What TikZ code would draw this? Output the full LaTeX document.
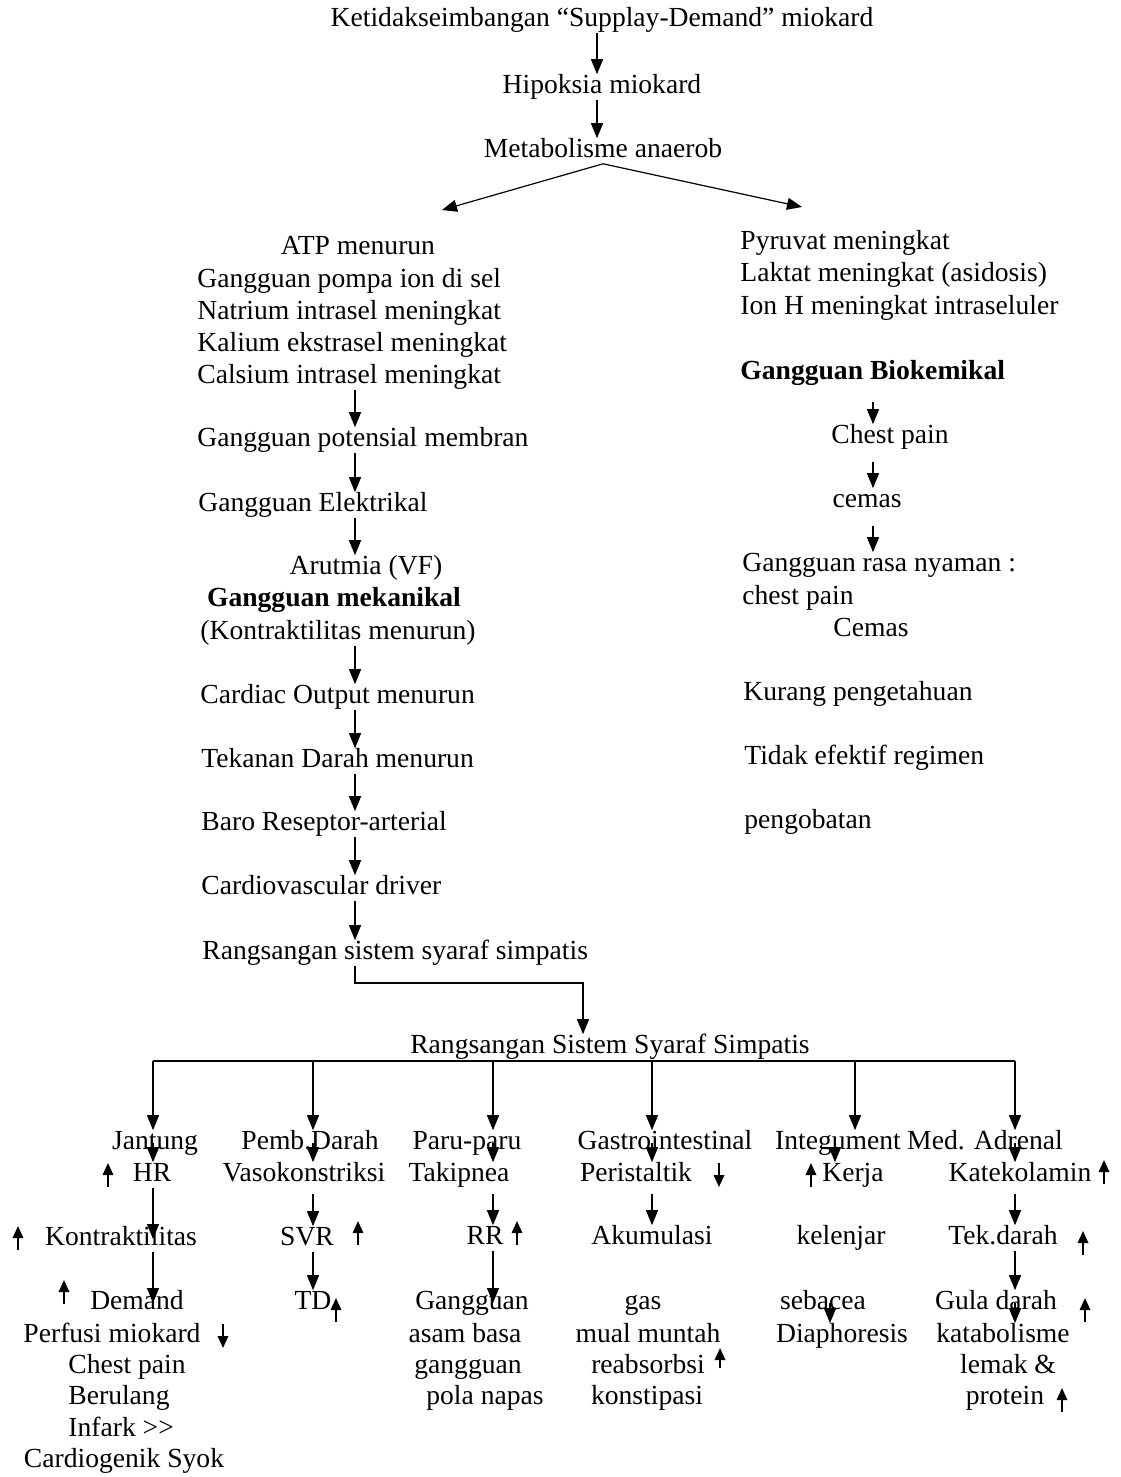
\documentclass[tikz,border=0pt]{standalone}
\usepackage{fontspec}
\setmainfont{Liberation Serif}
\usetikzlibrary{arrows.meta,calc}
\newcommand{\diagfont}{\fontsize{13.8}{16}\selectfont}

\begin{document}
\begin{tikzpicture}[x=0.5pt,y=-0.5pt,
  txt/.style={inner sep=0pt,font=\diagfont,text height=9.4pt,text depth=3pt},
  lft/.style={txt,anchor=west},
  con/.style={line width=0.6pt,-{Triangle[length=7.5pt,width=6pt]}},
  ind/.style={line width=1pt,-{Triangle[length=6pt,width=5.2pt]}}]
  \fill[white] (0,0) rectangle (1120,1477);
  \useasboundingbox (0,0) rectangle (1120,1477);

  % axes of the arrows
  \coordinate (axL) at (355,0);
  \coordinate (axR) at (873,0);
  \coordinate (brL) at (442,210);
  \coordinate (brR) at (802,207);
  \coordinate (elb) at (583,983);

  % top chain
  \node[txt] (top) at (602,20) {Ketidakseimbangan “Supplay-Demand” miokard};
  \node[txt] (hipoksia) at (602,87) {Hipoksia miokard};
  \node[txt] (metab) at (603,151) {Metabolisme anaerob};
  \draw[con] (top.south -| 597,0) -- (hipoksia.north -| 597,0);
  \draw[con] (hipoksia.south -| 597,0) -- (metab.north -| 597,0);
  \draw[con] (metab.south) -- (brL);
  \draw[con] (metab.south) -- (brR);

  % left branch
  \node[txt] (atp) at (358,248) {ATP menurun};
  \node[lft] (pompa) at (197,281) {Gangguan pompa ion di sel};
  \node[lft] (natrium) at (197,313) {Natrium intrasel meningkat};
  \node[lft] (kalium) at (197,345) {Kalium ekstrasel meningkat};
  \node[lft] (calsium) at (197,377) {Calsium intrasel meningkat};
  \node[lft] (potensial) at (197,440) {Gangguan potensial membran};
  \node[lft] (elektrikal) at (198,505) {Gangguan Elektrikal};
  \node[txt] (arutmia) at (366,568) {Arutmia (VF)};
  \node[txt,font=\diagfont\bfseries] (mekanikal) at (334,600) {Gangguan mekanikal};
  \node[lft] (kontraksi) at (200,633) {(Kontraktilitas menurun)};
  \node[lft] (cardiac) at (200,697) {Cardiac Output menurun};
  \node[lft] (tekanan) at (201,761) {Tekanan Darah menurun};
  \node[lft] (baro) at (201,824) {Baro Reseptor-arterial};
  \node[lft] (cardio) at (201,888) {Cardiovascular driver};
  \node[lft] (rss) at (202,953) {Rangsangan sistem syaraf simpatis};

  \draw[con] (calsium.south -| axL) -- (potensial.north -| axL);
  \draw[con] (potensial.south -| axL) -- (elektrikal.north -| axL);
  \draw[con] (elektrikal.south -| axL) -- (arutmia.north -| axL);
  \draw[con] (kontraksi.south -| axL) -- (cardiac.north -| axL);
  \draw[con] (cardiac.south -| axL) -- (tekanan.north -| axL);
  \draw[con] (tekanan.south -| axL) -- (baro.north -| axL);
  \draw[con] (baro.south -| axL) -- (cardio.north -| axL);
  \draw[con] (cardio.south -| axL) -- (rss.north -| axL);

  % right branch
  \node[lft] (pyruvat) at (740,243) {Pyruvat meningkat};
  \node[lft] (laktat) at (740,275) {Laktat meningkat (asidosis)};
  \node[lft] (ionh) at (740,308) {Ion H meningkat intraseluler};
  \node[lft,font=\diagfont\bfseries] (biokem) at (740,373) {Gangguan Biokemikal};
  \node[txt] (chest) at (890,437) {Chest pain};
  \node[txt] (cemas) at (867,501) {cemas};
  \node[lft] (nyaman) at (742,565) {Gangguan rasa nyaman :};
  \node[lft] (chestp) at (742,598) {chest pain};
  \node[txt] (cemasB) at (871,630) {Cemas};
  \node[lft] (kurang) at (743,694) {Kurang pengetahuan};
  \node[lft] (tidak) at (744,758) {Tidak efektif regimen};
  \node[lft] (obat) at (744,822) {pengobatan};

  \draw[con,shorten <=8pt] (biokem.south -| axR) -- (chest.north -| axR);
  \draw[con,shorten <=6pt] (chest.south -| axR) -- (cemas.north -| axR);
  \draw[con,shorten <=6pt] (cemas.south -| axR) -- (nyaman.north -| axR);

  % sympathetic split
  \node[txt] (rssB) at (610,1047) {Rangsangan Sistem Syaraf Simpatis};
  \draw[con] (rss.south -| axL) |- (elb) -- (rssB.north -| elb);

  \coordinate (c1) at (153,1061);
  \coordinate (c2) at (313,1061);
  \coordinate (c3) at (493,1061);
  \coordinate (c4) at (652,1061);
  \coordinate (c5) at (855,1061);
  \coordinate (c6) at (1015,1061);
  \draw[line width=0.6pt] (c1) -- (c6);

  % Jantung
  \node[txt] (jantung) at (155,1143) {Jantung};
  \node[txt] (hr) at (152,1175) {HR};
  \node[txt] (kon) at (121,1239) {Kontraktilitas};
  \node[txt] (dem) at (137,1303) {Demand};
  \node[txt] (perfusi) at (112,1336) {Perfusi miokard};
  \node[txt] (chestA) at (127,1367) {Chest pain};
  \node[lft] (berulang) at (68,1398) {Berulang};
  \node[lft] (infark) at (68,1430) {Infark >\kern0pt>};
  \node[txt] (syok) at (124,1461) {Cardiogenik Syok};

  % Pembuluh darah
  \node[txt] (pemb) at (310,1143) {Pemb.Darah};
  \node[txt] (vaso) at (304,1175) {Vasokonstriksi};
  \node[txt] (svr) at (307,1239) {SVR};
  \node[txt] (td) at (313,1303) {TD};

  % Paru
  \node[txt] (paru) at (467,1143) {Paru-paru};
  \node[txt] (tak) at (459,1175) {Takipnea};
  \node[txt] (rr) at (485,1238) {RR};
  \node[txt] (gg) at (472,1303) {Gangguan};
  \node[txt] (asam) at (465,1336) {asam basa};
  \node[txt] (ggB) at (468,1367) {gangguan};
  \node[txt] (pola) at (485,1398) {pola napas};

  % Gastrointestinal
  \node[txt] (gastro) at (665,1143) {Gastrointestinal};
  \node[txt] (per) at (636,1175) {Peristaltik};
  \node[txt] (aku) at (652,1238) {Akumulasi};
  \node[txt] (gas) at (643,1303) {gas};
  \node[txt] (mual) at (648,1336) {mual muntah};
  \node[txt] (reab) at (648,1367) {reabsorbsi};
  \node[txt] (kons) at (647,1398) {konstipasi};

  % Integument
  \node[txt] (integ) at (838,1143) {Integument};
  \node[txt] (kerja) at (853,1175) {Kerja};
  \node[txt] (kel) at (841,1238) {kelenjar};
  \node[txt] (seb) at (823,1303) {sebacea};
  \node[txt] (dia) at (842,1336) {Diaphoresis};

  % Medula adrenal
  \node[txt] (adrenal) at (985,1143) {Med. Adrenal};
  \node[txt] (kat) at (1020,1175) {Katekolamin};
  \node[txt] (tek) at (1003,1238) {Tek.darah};
  \node[txt] (gula) at (996,1303) {Gula darah};
  \node[txt] (katab) at (1003,1336) {katabolisme};
  \node[txt] (lemak) at (1008,1367) {lemak \&};
  \node[txt] (protein) at (1005,1398) {protein};

  \foreach \c/\n in {c1/jantung,c2/pemb,c3/paru,c4/gastro,c5/integ,c6/adrenal}
    \draw[con] (\c) -- (\n.north -| \c);

  \draw[con] (jantung.center -| c1) -- (hr.north -| c1);
  \draw[con] (hr.south -| c1) -- (kon.center -| c1);
  \draw[con] (kon.south -| c1) -- (dem.center -| c1);
  \draw[con] (pemb.center -| c2) -- (vaso.north -| c2);
  \draw[con,shorten <=3pt] (vaso.south -| c2) -- (svr.north -| c2);
  \draw[con] (svr.south -| c2) -- (td.north -| c2);
  \draw[con] (paru.center -| c3) -- (tak.north -| c3);
  \draw[con,shorten <=3pt] (tak.south -| c3) -- (rr.north -| c3);
  \draw[con] (rr.south -| c3) -- (gg.center -| c3);
  \draw[con] (gastro.center -| c4) -- (per.north -| c4);
  \draw[con,shorten <=3pt] (per.south -| c4) -- (aku.north -| c4);
  \draw[con] (integ.center -| 835,0) -- (kerja.north -| 835,0);
  \draw[con] (seb.center -| 830,0) -- (dia.north -| 830,0);
  \draw[con] (adrenal.center -| c6) -- (kat.north -| c6);
  \draw[con,shorten <=3pt] (kat.south -| c6) -- (tek.north -| c6);
  \draw[con] (tek.south -| c6) -- (gula.north -| c6);
  \draw[con] (gula.center -| c6) -- (katab.north -| c6);

  % rise / fall marks
  \foreach \x/\y in {108/1175,18/1238,64/1292,358/1233,336/1310,517/1233,
                     811/1175,1104/1172,1083/1243,1085/1310,1062/1400}
    \draw[ind] (\x,{\y+12}) -- (\x,{\y-12});
  \draw[ind] (720,1368) -- (720,1348);
  \foreach \x/\y in {223/1336,719/1175}
    \draw[ind] (\x,{\y-12}) -- (\x,{\y+12});
\end{tikzpicture}
\end{document}
